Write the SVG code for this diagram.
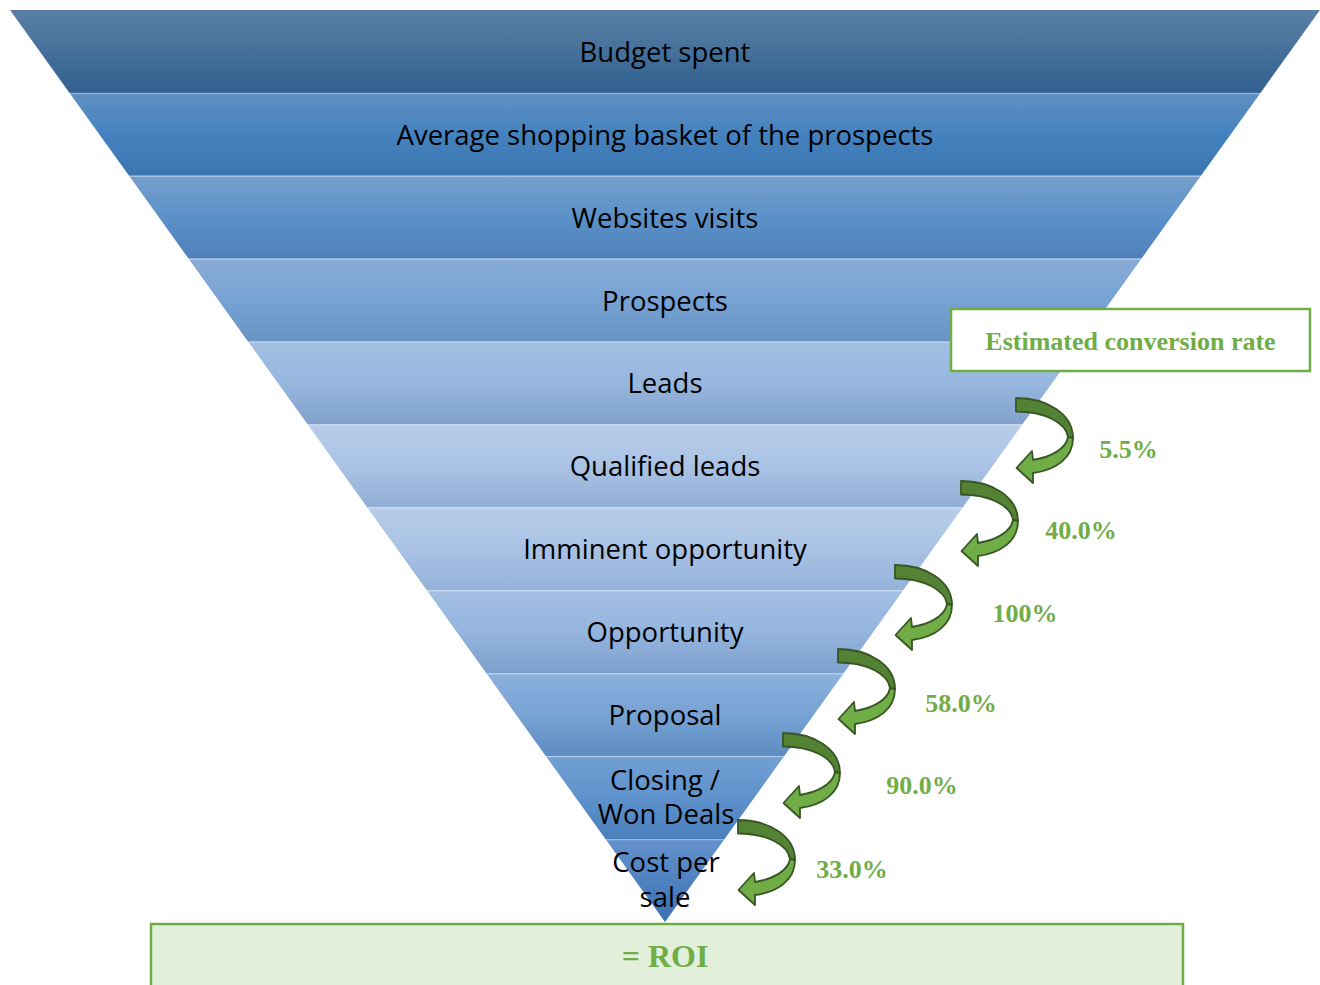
<svg xmlns="http://www.w3.org/2000/svg" xmlns:xlink="http://www.w3.org/1999/xlink" width="1320" height="985" viewBox="0 0 1320 985">
<style>
.lbl{font-family:"Open Sans","Noto Sans","Liberation Sans",sans-serif;font-size:27.5px;fill:#000;text-anchor:middle}
.pct{font-family:"Liberation Serif","Times New Roman",serif;font-weight:bold;font-size:26px;fill:#70ad47;text-anchor:middle}
.sep{stroke:#ffffff;stroke-opacity:0.35;stroke-width:1.2}
.dk{fill:#548235;stroke:#375623;stroke-width:1.8;stroke-linejoin:round}
.lt{fill:#70ad47;stroke:#375623;stroke-width:1.8;stroke-linejoin:round}
</style>
<defs>
<linearGradient id="g1" x1="0" y1="0" x2="0" y2="1"><stop offset="0" stop-color="#5b7fa6"/><stop offset="1" stop-color="#30618f"/></linearGradient>
<linearGradient id="g2" x1="0" y1="0" x2="0" y2="1"><stop offset="0" stop-color="#6190c2"/><stop offset="0.5" stop-color="#4482bf"/><stop offset="1" stop-color="#3a75b0"/></linearGradient>
<linearGradient id="g3" x1="0" y1="0" x2="0" y2="1"><stop offset="0" stop-color="#76a0cb"/><stop offset="0.5" stop-color="#5b91c9"/><stop offset="1" stop-color="#4f80ba"/></linearGradient>
<linearGradient id="g4" x1="0" y1="0" x2="0" y2="1"><stop offset="0" stop-color="#8aacd6"/><stop offset="0.5" stop-color="#76a2d4"/><stop offset="1" stop-color="#6792c4"/></linearGradient>
<linearGradient id="g5" x1="0" y1="0" x2="0" y2="1"><stop offset="0" stop-color="#a2bee2"/><stop offset="0.5" stop-color="#97b7df"/><stop offset="1" stop-color="#7fa1c9"/></linearGradient>
<linearGradient id="g6" x1="0" y1="0" x2="0" y2="1"><stop offset="0" stop-color="#b8cdea"/><stop offset="0.5" stop-color="#aac3e5"/><stop offset="1" stop-color="#91aed4"/></linearGradient>
<linearGradient id="g7" x1="0" y1="0" x2="0" y2="1"><stop offset="0" stop-color="#b7cce9"/><stop offset="0.5" stop-color="#a9c2e4"/><stop offset="1" stop-color="#94b2da"/></linearGradient>
<linearGradient id="g8" x1="0" y1="0" x2="0" y2="1"><stop offset="0" stop-color="#a3bfe3"/><stop offset="0.5" stop-color="#94b5de"/><stop offset="1" stop-color="#7d9fcb"/></linearGradient>
<linearGradient id="g9" x1="0" y1="0" x2="0" y2="1"><stop offset="0" stop-color="#8cb0dc"/><stop offset="0.5" stop-color="#77a2d4"/><stop offset="1" stop-color="#5e8dc2"/></linearGradient>
<linearGradient id="g10" x1="0" y1="0" x2="0" y2="1"><stop offset="0" stop-color="#72a0d3"/><stop offset="0.5" stop-color="#5f92cc"/><stop offset="1" stop-color="#4a7fbd"/></linearGradient>
<linearGradient id="g11" x1="0" y1="0" x2="0" y2="1"><stop offset="0" stop-color="#6592cb"/><stop offset="0.5" stop-color="#4f82c0"/><stop offset="1" stop-color="#3b6fb0"/></linearGradient>
<g id="carrow">
<path class="dk" d="M0,0 C31,0 57,16 57,40 L52,39 C50,25 29,13.5 0,13.5 Z"/>
<path class="lt" d="M57,40 C57,60 40,72 17,75 L17,85 L0.5,70 L16,53 L17,62 C35,59 50,51 52,39 Z"/>
</g>
</defs>

<g id="funnel">
<g id="band-budget"><polygon points="10,10 1320,10 1260.45,92.91 69.55,92.91" fill="url(#g1)"/><text class="lbl" x="665" y="62">Budget spent</text></g>
<g id="band-basket"><polygon points="69.55,92.91 1260.45,92.91 1200.91,175.82 129.09,175.82" fill="url(#g2)"/><line class="sep" x1="69.55" y1="93.4" x2="1260.45" y2="93.4"/><text class="lbl" x="665" y="145">Average shopping basket of the prospects</text></g>
<g id="band-visits"><polygon points="129.09,175.82 1200.91,175.82 1141.36,258.73 188.64,258.73" fill="url(#g3)"/><line class="sep" x1="129.09" y1="176.3" x2="1200.91" y2="176.3"/><text class="lbl" x="665" y="228">Websites visits</text></g>
<g id="band-prospects"><polygon points="188.64,258.73 1141.36,258.73 1081.82,341.64 248.18,341.64" fill="url(#g4)"/><line class="sep" x1="188.64" y1="259.2" x2="1141.36" y2="259.2"/><text class="lbl" x="665" y="311">Prospects</text></g>
<g id="band-leads"><polygon points="248.18,341.64 1081.82,341.64 1022.27,424.55 307.73,424.55" fill="url(#g5)"/><line class="sep" x1="248.18" y1="342.1" x2="1081.82" y2="342.1"/><text class="lbl" x="665" y="393">Leads</text></g>
<g id="band-qualified"><polygon points="307.73,424.55 1022.27,424.55 962.73,507.45 367.27,507.45" fill="url(#g6)"/><line class="sep" x1="307.73" y1="425" x2="1022.27" y2="425"/><text class="lbl" x="665" y="476">Qualified leads</text></g>
<g id="band-imminent"><polygon points="367.27,507.45 962.73,507.45 903.18,590.36 426.82,590.36" fill="url(#g7)"/><line class="sep" x1="367.27" y1="508" x2="962.73" y2="508"/><text class="lbl" x="665" y="559">Imminent opportunity</text></g>
<g id="band-opportunity"><polygon points="426.82,590.36 903.18,590.36 843.64,673.27 486.36,673.27" fill="url(#g8)"/><line class="sep" x1="426.82" y1="590.9" x2="903.18" y2="590.9"/><text class="lbl" x="665" y="642">Opportunity</text></g>
<g id="band-proposal"><polygon points="486.36,673.27 843.64,673.27 784.09,756.18 545.91,756.18" fill="url(#g9)"/><line class="sep" x1="486.36" y1="673.8" x2="843.64" y2="673.8"/><text class="lbl" x="665" y="725">Proposal</text></g>
<g id="band-closing"><polygon points="545.91,756.18 784.09,756.18 724.55,839.09 605.45,839.09" fill="url(#g10)"/><line class="sep" x1="545.91" y1="756.7" x2="784.09" y2="756.7"/><text class="lbl" x="665" y="790">Closing /</text><text class="lbl" x="666" y="824">Won Deals</text></g>
<g id="band-cost"><polygon points="605.45,839.09 724.55,839.09 665,922" fill="url(#g11)"/><line class="sep" x1="605.45" y1="839.6" x2="724.55" y2="839.6"/><text class="lbl" x="666" y="872">Cost per</text><text class="lbl" x="665" y="907">sale</text></g>
</g>

<g id="conversion-header">
<rect x="951" y="309" width="359" height="62" fill="#ffffff" stroke="#70ad47" stroke-width="2.5"/>
<text class="pct" x="1130.5" y="350">Estimated conversion rate</text>
</g>

<g id="connectors">
<use xlink:href="#carrow" href="#carrow" transform="translate(1016,398)"/>
<use xlink:href="#carrow" href="#carrow" transform="translate(961,481)"/>
<use xlink:href="#carrow" href="#carrow" transform="translate(895,565)"/>
<use xlink:href="#carrow" href="#carrow" transform="translate(838,649)"/>
<use xlink:href="#carrow" href="#carrow" transform="translate(783,733)"/>
<use xlink:href="#carrow" href="#carrow" transform="translate(738,820)"/>
</g>

<g id="rates">
<text class="pct" x="1128.5" y="458">5.5%</text>
<text class="pct" x="1081" y="539">40.0%</text>
<text class="pct" x="1025" y="622">100%</text>
<text class="pct" x="961" y="712">58.0%</text>
<text class="pct" x="922" y="794">90.0%</text>
<text class="pct" x="852" y="878">33.0%</text>
</g>

<g id="roi">
<rect x="151" y="924" width="1032" height="72" fill="#e2efda" stroke="#70ad47" stroke-width="2.5"/>
<text x="665" y="967" font-family="'Liberation Serif','Times New Roman',serif" font-weight="bold" font-size="32" fill="#70ad47" text-anchor="middle">= ROI</text>
</g>
</svg>
